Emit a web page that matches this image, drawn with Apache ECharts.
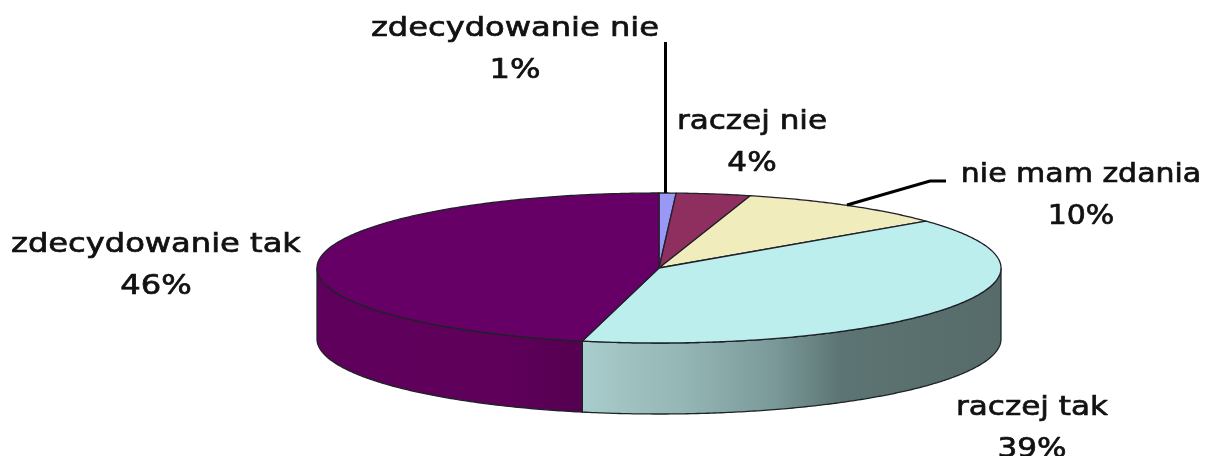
<!DOCTYPE html>
<html>
<head>
<meta charset="utf-8">
<style>html,body{margin:0;padding:0;background:#fff}#c{width:1216px;height:456px}</style>
<script src="https://cdn.jsdelivr.net/npm/echarts@6/dist/echarts.min.js"></script>
</head>
<body>
<div id="c"></div>
<script>
// Data (shares read from the slice boundaries, percent)
const categories = ['zdecydowanie nie', 'raczej nie', 'nie mam zdania', 'raczej tak', 'zdecydowanie tak'];
const shares = [0.8, 3.5, 9.95, 39.35, 46.4];

// Styles and layout (kept apart from the data)
const topColors = ['#9999f5', '#8f2f60', '#f0ecbc', '#bdeeee', '#660066'];
const wallColors = [null, null, null,
  {type:'linear',x:0,y:0,x2:1,y2:0,colorStops:[
    {offset:0,color:'#a9cdcc'},{offset:0.25,color:'#93b5b4'},{offset:0.45,color:'#7b9b9a'},
    {offset:0.62,color:'#5c7473'},{offset:1,color:'#566b6a'}]},
  {type:'linear',x:0,y:0,x2:1,y2:0,colorStops:[
    {offset:0,color:'#5f005c'},{offset:0.7,color:'#5f005b'},{offset:1,color:'#550050'}]}
];
const labelAnchors = [[515,50],[752,143],[1081,196],[1032,429],[156,266]];
const labelStretch = [1.19, 1.15, 1.11, 1.15, 1.19];
const leaders = [
  [[665.5,42],[665.5,193]],
  null,
  [[847,205],[930,181],[946,181]],
  null, null
];
const pie = {cx:659, cy:268, rx:342, ry:75, depth:71};
const FONT = '"DejaVu Sans"';

function pt(a, dy) {
  return [pie.cx + pie.rx*Math.sin(a), pie.cy - pie.ry*Math.cos(a) + (dy||0)];
}
function arc(a0, a1, dy) {
  const n = Math.max(2, Math.ceil((a1-a0)/0.01)), out = [];
  for (let i=0;i<=n;i++) out.push(pt(a0+(a1-a0)*i/n, dy));
  return out;
}
const total = shares.reduce((s,v)=>s+v,0);
function renderItem(params, api) {
  const i = params.dataIndex, val = api.value(1);
  let before = 0;
  for (let k=0;k<i;k++) before += shares[k];
  const a0 = before/total*2*Math.PI, a1 = (before+val)/total*2*Math.PI;
  const children = [];
  // front wall: visible between 90deg and 270deg of the turn
  const w0 = Math.max(a0, Math.PI/2), w1 = Math.min(a1, Math.PI*1.5);
  if (w1 > w0 && wallColors[i]) {
    const pts = arc(w0,w1,0).concat(arc(w0,w1,pie.depth).reverse());
    children.push({type:'polygon', z2:1, shape:{points:pts},
      style:{fill:wallColors[i], stroke:'#1c2424', lineWidth:1.3}});
  }
  // top face
  children.push({type:'polygon', z2:2, shape:{points:[[pie.cx,pie.cy]].concat(arc(a0,a1,0))},
    style:{fill:topColors[i], stroke:'#20202a', lineWidth:1.3, lineJoin:'round'}});
  // leader line
  if (leaders[i]) children.push({type:'polyline', z2:5, shape:{points:leaders[i]},
    style:{fill:null, stroke:'#000', lineWidth:3}});
  // label
  const name = categories[i], pct = Math.round(val)+'%';
  children.push({type:'text', z2:6, x:labelAnchors[i][0], y:labelAnchors[i][1], scaleX:labelStretch[i],
    style:{text:name+'\n'+pct, align:'center', verticalAlign:'middle',
      font:'27px '+FONT, lineHeight:42, fill:'#111', stroke:'#111', lineWidth:0.7}});
  return {type:'group', children};
}

const chart = echarts.init(document.getElementById('c'), null, {renderer:'canvas'});
chart.setOption({
  animation:false,
  backgroundColor:'#ffffff',
  series:[{
    type:'custom',
    coordinateSystem:'none',
    renderItem,
    data: categories.map((c,i)=>[c, shares[i]]),
    encode:{itemName:0, value:1},
    dimensions:[{name:'name',type:'ordinal'},{name:'share',type:'number'}],
    clip:false
  }]
});
</script>
</body>
</html>
